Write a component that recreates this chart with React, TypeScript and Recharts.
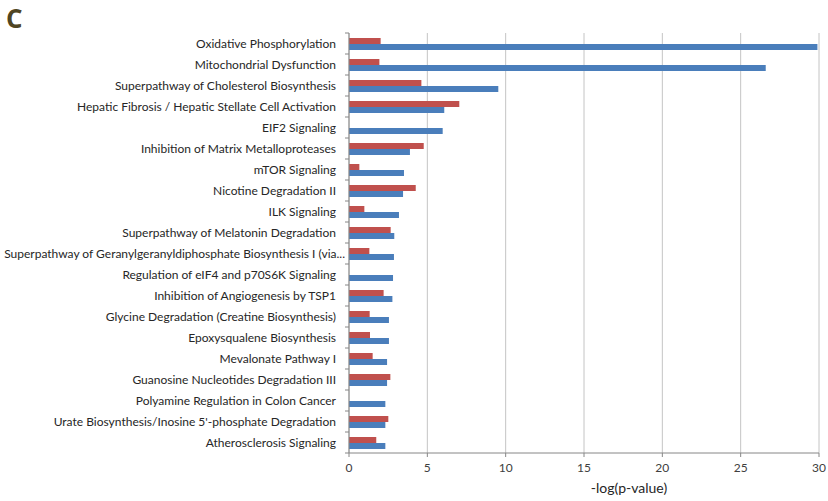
import React from 'react';
import { BarChart, Bar, XAxis, YAxis, CartesianGrid, Label } from 'recharts';

// Canonical pathways, top to bottom
const pathways = [
  'Oxidative Phosphorylation',
  'Mitochondrial Dysfunction',
  'Superpathway of Cholesterol Biosynthesis',
  'Hepatic Fibrosis / Hepatic Stellate Cell Activation',
  'EIF2 Signaling',
  'Inhibition of Matrix Metalloproteases',
  'mTOR Signaling',
  'Nicotine Degradation II',
  'ILK Signaling',
  'Superpathway of Melatonin Degradation',
  'Superpathway of Geranylgeranyldiphosphate Biosynthesis I (via...',
  'Regulation of eIF4 and p70S6K Signaling',
  'Inhibition of Angiogenesis by TSP1',
  'Glycine Degradation (Creatine Biosynthesis)',
  'Epoxysqualene Biosynthesis',
  'Mevalonate Pathway I',
  'Guanosine Nucleotides Degradation III',
  'Polyamine Regulation in Colon Cancer',
  'Urate Biosynthesis/Inosine 5\'-phosphate Degradation',
  'Atherosclerosis Signaling',
];

// -log(p-value) per pathway, two comparisons
const redValues = [
  2.02, 1.94, 4.62, 7.04, 0, 4.77, 0.66, 4.26, 0.98, 2.66,
  1.3, 0, 2.21, 1.32, 1.34, 1.51, 2.64, 0, 2.51, 1.74,
];
const blueValues = [
  29.9, 26.6, 9.53, 6.08, 5.98, 3.89, 3.51, 3.45, 3.19, 2.89,
  2.87, 2.81, 2.77, 2.55, 2.55, 2.43, 2.43, 2.32, 2.32, 2.32,
];

const xTicks = [0, 5, 10, 15, 20, 25, 30];

const data = pathways.map((name, i) => ({
  name,
  red: redValues[i],
  blue: blueValues[i],
}));

const FONT = 'Lato, "Open Sans", sans-serif';
const AXIS_GRAY = '#868686';
const TICK_SIZE = 4;
const TICK_MARGIN = 9;

// Category label plus tick marks on the band boundaries
const PathwayTick = (props: any) => {
  const { x, y, payload, index } = props;
  const half = payload && payload.offset ? payload.offset : 0;
  const axisX = x + TICK_SIZE + TICK_MARGIN;
  const truncated = String(payload.value).endsWith('...');
  return (
    <g>
      <line x1={axisX - TICK_SIZE} x2={axisX} y1={y - half} y2={y - half} stroke={AXIS_GRAY} />
      {index === pathways.length - 1 && (
        <line x1={axisX - TICK_SIZE} x2={axisX} y1={y + half} y2={y + half} stroke={AXIS_GRAY} />
      )}
      <text
        x={truncated ? x + 9 : x}
        y={y}
        dy={4}
        textAnchor="end"
        fontFamily={FONT}
        fontSize={12}
        fill="#262626"
      >
        {payload.value}
      </text>
    </g>
  );
};

export default function App() {
  return (
    <div style={{ position: 'absolute', left: 0, top: 0, width: 828, height: 501, background: '#fff' }}>
      <div
        style={{
          position: 'absolute',
          left: 6,
          top: 2,
          fontFamily: '"Open Sans", sans-serif',
          fontWeight: 700,
          fontSize: 26,
          color: '#4f4522',
          lineHeight: '32px',
        }}
      >
        C
      </div>
      <BarChart
        width={828}
        height={501}
        data={data}
        layout="vertical"
        margin={{ top: 33, right: 9, bottom: 0, left: 0 }}
        barSize={6}
        barGap={0}
      >
        <CartesianGrid horizontal={false} stroke="#c4c4c4" strokeWidth={1} />
        <XAxis
          type="number"
          domain={[0, 30]}
          ticks={xTicks}
          interval={0}
          height={48}
          tickSize={4}
          tickMargin={6}
          stroke={AXIS_GRAY}
          tick={{ fontFamily: FONT, fontSize: 12, fill: '#404040' }}
        >
          <Label
            value="-log(p-value)"
            position="insideBottom"
            dx={45}
            offset={8}
            style={{ fontFamily: FONT, fontSize: 14, fill: '#262626' }}
          />
        </XAxis>
        <YAxis
          type="category"
          dataKey="name"
          width={349}
          interval={0}
          tickSize={TICK_SIZE}
          tickMargin={TICK_MARGIN}
          tickLine={false}
          stroke={AXIS_GRAY}
          tick={<PathwayTick />}
        />
        <Bar dataKey="red" fill="#c0504d" isAnimationActive={false} />
        <Bar dataKey="blue" fill="#4a7ebb" isAnimationActive={false} />
      </BarChart>
    </div>
  );
}
